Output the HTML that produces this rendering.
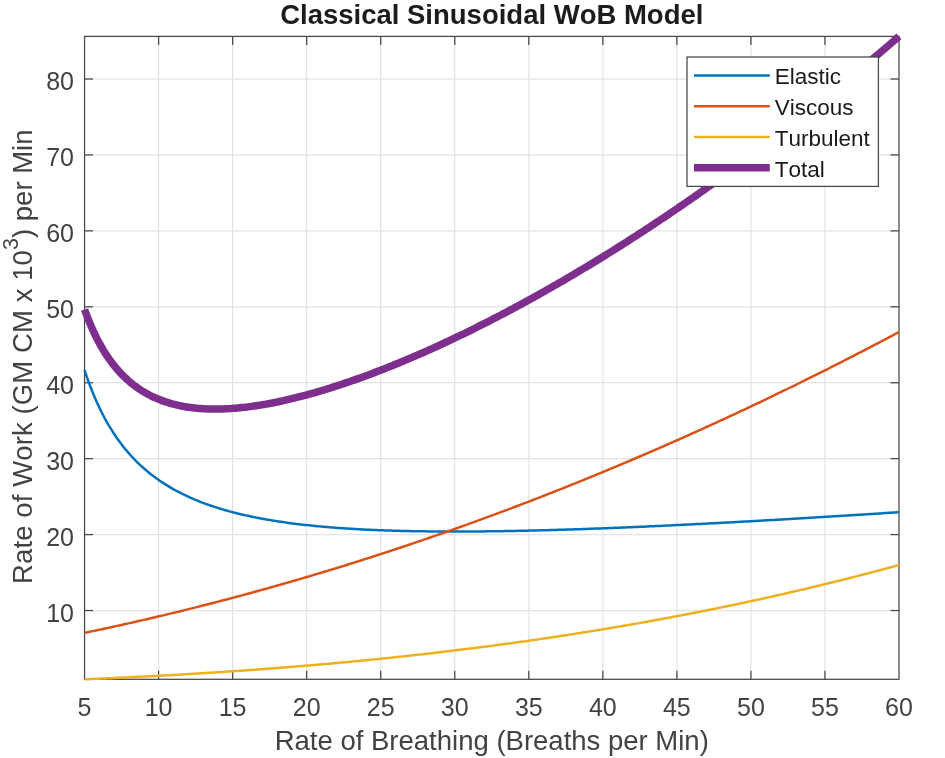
<!DOCTYPE html>
<html lang="en"><head><meta charset="utf-8"><title>Classical Sinusoidal WoB Model</title>
<style>html,body{margin:0;padding:0;background:#fff}body{width:945px;height:758px;overflow:hidden}text{font-kerning:none}</style></head>
<body>
<svg width="945" height="758" viewBox="0 0 945 758" style="display:block">
<rect width="945" height="758" fill="#fff"/>
<line x1="158.59" y1="36.4" x2="158.59" y2="679.3" stroke="#e2e3e5" stroke-width="1.25"/>
<line x1="232.63" y1="36.4" x2="232.63" y2="679.3" stroke="#e2e3e5" stroke-width="1.25"/>
<line x1="306.67" y1="36.4" x2="306.67" y2="679.3" stroke="#e2e3e5" stroke-width="1.25"/>
<line x1="380.71" y1="36.4" x2="380.71" y2="679.3" stroke="#e2e3e5" stroke-width="1.25"/>
<line x1="454.75" y1="36.4" x2="454.75" y2="679.3" stroke="#e2e3e5" stroke-width="1.25"/>
<line x1="528.80" y1="36.4" x2="528.80" y2="679.3" stroke="#e2e3e5" stroke-width="1.25"/>
<line x1="602.84" y1="36.4" x2="602.84" y2="679.3" stroke="#e2e3e5" stroke-width="1.25"/>
<line x1="676.88" y1="36.4" x2="676.88" y2="679.3" stroke="#e2e3e5" stroke-width="1.25"/>
<line x1="750.92" y1="36.4" x2="750.92" y2="679.3" stroke="#e2e3e5" stroke-width="1.25"/>
<line x1="824.96" y1="36.4" x2="824.96" y2="679.3" stroke="#e2e3e5" stroke-width="1.25"/>
<line x1="84.55" y1="610.51" x2="899.0" y2="610.51" stroke="#e2e3e5" stroke-width="1.25"/>
<line x1="84.55" y1="534.58" x2="899.0" y2="534.58" stroke="#e2e3e5" stroke-width="1.25"/>
<line x1="84.55" y1="458.66" x2="899.0" y2="458.66" stroke="#e2e3e5" stroke-width="1.25"/>
<line x1="84.55" y1="382.73" x2="899.0" y2="382.73" stroke="#e2e3e5" stroke-width="1.25"/>
<line x1="84.55" y1="306.80" x2="899.0" y2="306.80" stroke="#e2e3e5" stroke-width="1.25"/>
<line x1="84.55" y1="230.87" x2="899.0" y2="230.87" stroke="#e2e3e5" stroke-width="1.25"/>
<line x1="84.55" y1="154.94" x2="899.0" y2="154.94" stroke="#e2e3e5" stroke-width="1.25"/>
<line x1="84.55" y1="79.02" x2="899.0" y2="79.02" stroke="#e2e3e5" stroke-width="1.25"/>
<rect x="84.55" y="36.4" width="814.45" height="642.9" fill="none" stroke="#45474a" stroke-width="1.25"/>
<line x1="158.59" y1="679.3" x2="158.59" y2="670.8" stroke="#45474a" stroke-width="1.25"/>
<line x1="158.59" y1="36.4" x2="158.59" y2="44.9" stroke="#45474a" stroke-width="1.25"/>
<line x1="232.63" y1="679.3" x2="232.63" y2="670.8" stroke="#45474a" stroke-width="1.25"/>
<line x1="232.63" y1="36.4" x2="232.63" y2="44.9" stroke="#45474a" stroke-width="1.25"/>
<line x1="306.67" y1="679.3" x2="306.67" y2="670.8" stroke="#45474a" stroke-width="1.25"/>
<line x1="306.67" y1="36.4" x2="306.67" y2="44.9" stroke="#45474a" stroke-width="1.25"/>
<line x1="380.71" y1="679.3" x2="380.71" y2="670.8" stroke="#45474a" stroke-width="1.25"/>
<line x1="380.71" y1="36.4" x2="380.71" y2="44.9" stroke="#45474a" stroke-width="1.25"/>
<line x1="454.75" y1="679.3" x2="454.75" y2="670.8" stroke="#45474a" stroke-width="1.25"/>
<line x1="454.75" y1="36.4" x2="454.75" y2="44.9" stroke="#45474a" stroke-width="1.25"/>
<line x1="528.80" y1="679.3" x2="528.80" y2="670.8" stroke="#45474a" stroke-width="1.25"/>
<line x1="528.80" y1="36.4" x2="528.80" y2="44.9" stroke="#45474a" stroke-width="1.25"/>
<line x1="602.84" y1="679.3" x2="602.84" y2="670.8" stroke="#45474a" stroke-width="1.25"/>
<line x1="602.84" y1="36.4" x2="602.84" y2="44.9" stroke="#45474a" stroke-width="1.25"/>
<line x1="676.88" y1="679.3" x2="676.88" y2="670.8" stroke="#45474a" stroke-width="1.25"/>
<line x1="676.88" y1="36.4" x2="676.88" y2="44.9" stroke="#45474a" stroke-width="1.25"/>
<line x1="750.92" y1="679.3" x2="750.92" y2="670.8" stroke="#45474a" stroke-width="1.25"/>
<line x1="750.92" y1="36.4" x2="750.92" y2="44.9" stroke="#45474a" stroke-width="1.25"/>
<line x1="824.96" y1="679.3" x2="824.96" y2="670.8" stroke="#45474a" stroke-width="1.25"/>
<line x1="824.96" y1="36.4" x2="824.96" y2="44.9" stroke="#45474a" stroke-width="1.25"/>
<line x1="84.55" y1="610.51" x2="93.05" y2="610.51" stroke="#45474a" stroke-width="1.25"/>
<line x1="899.0" y1="610.51" x2="890.5" y2="610.51" stroke="#45474a" stroke-width="1.25"/>
<line x1="84.55" y1="534.58" x2="93.05" y2="534.58" stroke="#45474a" stroke-width="1.25"/>
<line x1="899.0" y1="534.58" x2="890.5" y2="534.58" stroke="#45474a" stroke-width="1.25"/>
<line x1="84.55" y1="458.66" x2="93.05" y2="458.66" stroke="#45474a" stroke-width="1.25"/>
<line x1="899.0" y1="458.66" x2="890.5" y2="458.66" stroke="#45474a" stroke-width="1.25"/>
<line x1="84.55" y1="382.73" x2="93.05" y2="382.73" stroke="#45474a" stroke-width="1.25"/>
<line x1="899.0" y1="382.73" x2="890.5" y2="382.73" stroke="#45474a" stroke-width="1.25"/>
<line x1="84.55" y1="306.80" x2="93.05" y2="306.80" stroke="#45474a" stroke-width="1.25"/>
<line x1="899.0" y1="306.80" x2="890.5" y2="306.80" stroke="#45474a" stroke-width="1.25"/>
<line x1="84.55" y1="230.87" x2="93.05" y2="230.87" stroke="#45474a" stroke-width="1.25"/>
<line x1="899.0" y1="230.87" x2="890.5" y2="230.87" stroke="#45474a" stroke-width="1.25"/>
<line x1="84.55" y1="154.94" x2="93.05" y2="154.94" stroke="#45474a" stroke-width="1.25"/>
<line x1="899.0" y1="154.94" x2="890.5" y2="154.94" stroke="#45474a" stroke-width="1.25"/>
<line x1="84.55" y1="79.02" x2="93.05" y2="79.02" stroke="#45474a" stroke-width="1.25"/>
<line x1="899.0" y1="79.02" x2="890.5" y2="79.02" stroke="#45474a" stroke-width="1.25"/>
<path d="M84.55,370.20 L86.59,376.26 L88.63,381.98 L90.67,387.41 L92.71,392.56 L94.76,397.46 L96.80,402.11 L98.84,406.54 L100.88,410.76 L102.92,414.79 L104.96,418.63 L107.00,422.31 L109.04,425.82 L111.09,429.19 L113.13,432.41 L115.17,435.50 L117.21,438.47 L119.25,441.32 L121.29,444.05 L123.33,446.69 L125.37,449.22 L127.42,451.65 L129.46,454.00 L131.50,456.26 L133.54,458.44 L135.58,460.55 L137.62,462.58 L139.66,464.54 L141.70,466.43 L143.75,468.27 L145.79,470.04 L147.83,471.75 L149.87,473.41 L151.91,475.01 L153.95,476.56 L155.99,478.07 L158.03,479.53 L160.08,480.94 L162.12,482.31 L164.16,483.64 L166.20,484.93 L168.24,486.18 L170.28,487.40 L172.32,488.58 L174.36,489.72 L176.41,490.84 L178.45,491.92 L180.49,492.97 L182.53,494.00 L184.57,494.99 L186.61,495.96 L188.65,496.90 L190.69,497.81 L192.74,498.71 L194.78,499.57 L196.82,500.42 L198.86,501.24 L200.90,502.04 L202.94,502.82 L204.98,503.58 L207.02,504.33 L209.06,505.05 L211.11,505.75 L213.15,506.44 L215.19,507.11 L217.23,507.76 L219.27,508.39 L221.31,509.01 L223.35,509.62 L225.39,510.21 L227.44,510.78 L229.48,511.34 L231.52,511.89 L233.56,512.43 L235.60,512.95 L237.64,513.46 L239.68,513.95 L241.72,514.44 L243.77,514.91 L245.81,515.37 L247.85,515.82 L249.89,516.26 L251.93,516.69 L253.97,517.11 L256.01,517.52 L258.05,517.92 L260.10,518.31 L262.14,518.69 L264.18,519.07 L266.22,519.43 L268.26,519.78 L270.30,520.13 L272.34,520.47 L274.38,520.80 L276.43,521.12 L278.47,521.44 L280.51,521.74 L282.55,522.04 L284.59,522.34 L286.63,522.62 L288.67,522.90 L290.71,523.18 L292.76,523.44 L294.80,523.70 L296.84,523.95 L298.88,524.20 L300.92,524.44 L302.96,524.68 L305.00,524.91 L307.04,525.13 L309.09,525.35 L311.13,525.57 L313.17,525.77 L315.21,525.98 L317.25,526.17 L319.29,526.37 L321.33,526.55 L323.37,526.74 L325.41,526.92 L327.46,527.09 L329.50,527.26 L331.54,527.42 L333.58,527.59 L335.62,527.74 L337.66,527.89 L339.70,528.04 L341.74,528.19 L343.79,528.33 L345.83,528.46 L347.87,528.59 L349.91,528.72 L351.95,528.85 L353.99,528.97 L356.03,529.09 L358.07,529.20 L360.12,529.31 L362.16,529.42 L364.20,529.53 L366.24,529.63 L368.28,529.72 L370.32,529.82 L372.36,529.91 L374.40,530.00 L376.45,530.09 L378.49,530.17 L380.53,530.25 L382.57,530.33 L384.61,530.40 L386.65,530.47 L388.69,530.54 L390.73,530.61 L392.78,530.67 L394.82,530.73 L396.86,530.79 L398.90,530.85 L400.94,530.90 L402.98,530.95 L405.02,531.00 L407.06,531.05 L409.11,531.09 L411.15,531.13 L413.19,531.17 L415.23,531.21 L417.27,531.25 L419.31,531.28 L421.35,531.31 L423.39,531.34 L425.44,531.37 L427.48,531.39 L429.52,531.41 L431.56,531.44 L433.60,531.45 L435.64,531.47 L437.68,531.49 L439.72,531.50 L441.76,531.51 L443.81,531.52 L445.85,531.53 L447.89,531.54 L449.93,531.54 L451.97,531.55 L454.01,531.55 L456.05,531.55 L458.09,531.54 L460.14,531.54 L462.18,531.54 L464.22,531.53 L466.26,531.52 L468.30,531.51 L470.34,531.50 L472.38,531.49 L474.42,531.47 L476.47,531.46 L478.51,531.44 L480.55,531.42 L482.59,531.40 L484.63,531.38 L486.67,531.36 L488.71,531.34 L490.75,531.31 L492.80,531.29 L494.84,531.26 L496.88,531.23 L498.92,531.20 L500.96,531.17 L503.00,531.13 L505.04,531.10 L507.08,531.07 L509.13,531.03 L511.17,530.99 L513.21,530.95 L515.25,530.91 L517.29,530.87 L519.33,530.83 L521.37,530.79 L523.41,530.75 L525.46,530.70 L527.50,530.65 L529.54,530.61 L531.58,530.56 L533.62,530.51 L535.66,530.46 L537.70,530.41 L539.74,530.36 L541.79,530.30 L543.83,530.25 L545.87,530.20 L547.91,530.14 L549.95,530.08 L551.99,530.02 L554.03,529.97 L556.07,529.91 L558.11,529.85 L560.16,529.78 L562.20,529.72 L564.24,529.66 L566.28,529.60 L568.32,529.53 L570.36,529.47 L572.40,529.40 L574.44,529.33 L576.49,529.26 L578.53,529.20 L580.57,529.13 L582.61,529.06 L584.65,528.99 L586.69,528.91 L588.73,528.84 L590.77,528.77 L592.82,528.69 L594.86,528.62 L596.90,528.54 L598.94,528.47 L600.98,528.39 L603.02,528.31 L605.06,528.23 L607.10,528.16 L609.15,528.08 L611.19,528.00 L613.23,527.91 L615.27,527.83 L617.31,527.75 L619.35,527.67 L621.39,527.58 L623.43,527.50 L625.48,527.42 L627.52,527.33 L629.56,527.24 L631.60,527.16 L633.64,527.07 L635.68,526.98 L637.72,526.89 L639.76,526.81 L641.81,526.72 L643.85,526.63 L645.89,526.53 L647.93,526.44 L649.97,526.35 L652.01,526.26 L654.05,526.17 L656.09,526.07 L658.14,525.98 L660.18,525.88 L662.22,525.79 L664.26,525.69 L666.30,525.60 L668.34,525.50 L670.38,525.40 L672.42,525.31 L674.46,525.21 L676.51,525.11 L678.55,525.01 L680.59,524.91 L682.63,524.81 L684.67,524.71 L686.71,524.61 L688.75,524.51 L690.79,524.41 L692.84,524.31 L694.88,524.20 L696.92,524.10 L698.96,524.00 L701.00,523.89 L703.04,523.79 L705.08,523.68 L707.12,523.58 L709.17,523.47 L711.21,523.37 L713.25,523.26 L715.29,523.15 L717.33,523.04 L719.37,522.94 L721.41,522.83 L723.45,522.72 L725.50,522.61 L727.54,522.50 L729.58,522.39 L731.62,522.28 L733.66,522.17 L735.70,522.06 L737.74,521.95 L739.78,521.84 L741.83,521.72 L743.87,521.61 L745.91,521.50 L747.95,521.39 L749.99,521.27 L752.03,521.16 L754.07,521.04 L756.11,520.93 L758.16,520.81 L760.20,520.70 L762.24,520.58 L764.28,520.47 L766.32,520.35 L768.36,520.23 L770.40,520.12 L772.44,520.00 L774.49,519.88 L776.53,519.77 L778.57,519.65 L780.61,519.53 L782.65,519.41 L784.69,519.29 L786.73,519.17 L788.77,519.05 L790.81,518.93 L792.86,518.81 L794.90,518.69 L796.94,518.57 L798.98,518.45 L801.02,518.33 L803.06,518.20 L805.10,518.08 L807.14,517.96 L809.19,517.84 L811.23,517.71 L813.27,517.59 L815.31,517.47 L817.35,517.34 L819.39,517.22 L821.43,517.09 L823.47,516.97 L825.52,516.84 L827.56,516.72 L829.60,516.59 L831.64,516.47 L833.68,516.34 L835.72,516.22 L837.76,516.09 L839.80,515.96 L841.85,515.84 L843.89,515.71 L845.93,515.58 L847.97,515.45 L850.01,515.33 L852.05,515.20 L854.09,515.07 L856.13,514.94 L858.18,514.81 L860.22,514.68 L862.26,514.55 L864.30,514.42 L866.34,514.29 L868.38,514.16 L870.42,514.03 L872.46,513.90 L874.51,513.77 L876.55,513.64 L878.59,513.51 L880.63,513.38 L882.67,513.25 L884.71,513.11 L886.75,512.98 L888.79,512.85 L890.84,512.72 L892.88,512.58 L894.92,512.45 L896.96,512.32 L899.00,512.19" fill="none" stroke="#0072BD" stroke-width="2.5" stroke-linejoin="round"/>
<path d="M84.55,632.84 L86.59,632.42 L88.63,632.00 L90.67,631.57 L92.71,631.14 L94.76,630.71 L96.80,630.28 L98.84,629.85 L100.88,629.41 L102.92,628.98 L104.96,628.54 L107.00,628.10 L109.04,627.66 L111.09,627.22 L113.13,626.77 L115.17,626.33 L117.21,625.88 L119.25,625.43 L121.29,624.98 L123.33,624.52 L125.37,624.07 L127.42,623.61 L129.46,623.15 L131.50,622.70 L133.54,622.23 L135.58,621.77 L137.62,621.31 L139.66,620.84 L141.70,620.37 L143.75,619.90 L145.79,619.43 L147.83,618.96 L149.87,618.48 L151.91,618.01 L153.95,617.53 L155.99,617.05 L158.03,616.57 L160.08,616.09 L162.12,615.60 L164.16,615.12 L166.20,614.63 L168.24,614.14 L170.28,613.65 L172.32,613.15 L174.36,612.66 L176.41,612.16 L178.45,611.67 L180.49,611.17 L182.53,610.67 L184.57,610.16 L186.61,609.66 L188.65,609.15 L190.69,608.64 L192.74,608.13 L194.78,607.62 L196.82,607.11 L198.86,606.60 L200.90,606.08 L202.94,605.56 L204.98,605.04 L207.02,604.52 L209.06,604.00 L211.11,603.47 L213.15,602.95 L215.19,602.42 L217.23,601.89 L219.27,601.36 L221.31,600.83 L223.35,600.29 L225.39,599.76 L227.44,599.22 L229.48,598.68 L231.52,598.14 L233.56,597.60 L235.60,597.05 L237.64,596.51 L239.68,595.96 L241.72,595.41 L243.77,594.86 L245.81,594.31 L247.85,593.75 L249.89,593.20 L251.93,592.64 L253.97,592.08 L256.01,591.52 L258.05,590.95 L260.10,590.39 L262.14,589.82 L264.18,589.26 L266.22,588.69 L268.26,588.12 L270.30,587.54 L272.34,586.97 L274.38,586.39 L276.43,585.82 L278.47,585.24 L280.51,584.66 L282.55,584.07 L284.59,583.49 L286.63,582.90 L288.67,582.32 L290.71,581.73 L292.76,581.14 L294.80,580.54 L296.84,579.95 L298.88,579.35 L300.92,578.75 L302.96,578.16 L305.00,577.55 L307.04,576.95 L309.09,576.35 L311.13,575.74 L313.17,575.13 L315.21,574.53 L317.25,573.91 L319.29,573.30 L321.33,572.69 L323.37,572.07 L325.41,571.45 L327.46,570.83 L329.50,570.21 L331.54,569.59 L333.58,568.97 L335.62,568.34 L337.66,567.71 L339.70,567.08 L341.74,566.45 L343.79,565.82 L345.83,565.19 L347.87,564.55 L349.91,563.91 L351.95,563.28 L353.99,562.63 L356.03,561.99 L358.07,561.35 L360.12,560.70 L362.16,560.05 L364.20,559.41 L366.24,558.75 L368.28,558.10 L370.32,557.45 L372.36,556.79 L374.40,556.13 L376.45,555.48 L378.49,554.81 L380.53,554.15 L382.57,553.49 L384.61,552.82 L386.65,552.16 L388.69,551.49 L390.73,550.82 L392.78,550.14 L394.82,549.47 L396.86,548.79 L398.90,548.12 L400.94,547.44 L402.98,546.76 L405.02,546.07 L407.06,545.39 L409.11,544.70 L411.15,544.02 L413.19,543.33 L415.23,542.64 L417.27,541.94 L419.31,541.25 L421.35,540.56 L423.39,539.86 L425.44,539.16 L427.48,538.46 L429.52,537.76 L431.56,537.05 L433.60,536.35 L435.64,535.64 L437.68,534.93 L439.72,534.22 L441.76,533.51 L443.81,532.79 L445.85,532.08 L447.89,531.36 L449.93,530.64 L451.97,529.92 L454.01,529.20 L456.05,528.47 L458.09,527.75 L460.14,527.02 L462.18,526.29 L464.22,525.56 L466.26,524.83 L468.30,524.10 L470.34,523.36 L472.38,522.62 L474.42,521.88 L476.47,521.14 L478.51,520.40 L480.55,519.66 L482.59,518.91 L484.63,518.16 L486.67,517.42 L488.71,516.67 L490.75,515.91 L492.80,515.16 L494.84,514.40 L496.88,513.65 L498.92,512.89 L500.96,512.13 L503.00,511.37 L505.04,510.60 L507.08,509.84 L509.13,509.07 L511.17,508.30 L513.21,507.53 L515.25,506.76 L517.29,505.98 L519.33,505.21 L521.37,504.43 L523.41,503.65 L525.46,502.87 L527.50,502.09 L529.54,501.31 L531.58,500.52 L533.62,499.73 L535.66,498.94 L537.70,498.15 L539.74,497.36 L541.79,496.57 L543.83,495.77 L545.87,494.98 L547.91,494.18 L549.95,493.38 L551.99,492.57 L554.03,491.77 L556.07,490.96 L558.11,490.16 L560.16,489.35 L562.20,488.54 L564.24,487.73 L566.28,486.91 L568.32,486.10 L570.36,485.28 L572.40,484.46 L574.44,483.64 L576.49,482.82 L578.53,482.00 L580.57,481.17 L582.61,480.34 L584.65,479.51 L586.69,478.68 L588.73,477.85 L590.77,477.02 L592.82,476.18 L594.86,475.35 L596.90,474.51 L598.94,473.67 L600.98,472.83 L603.02,471.98 L605.06,471.14 L607.10,470.29 L609.15,469.44 L611.19,468.59 L613.23,467.74 L615.27,466.89 L617.31,466.03 L619.35,465.17 L621.39,464.31 L623.43,463.45 L625.48,462.59 L627.52,461.73 L629.56,460.86 L631.60,460.00 L633.64,459.13 L635.68,458.26 L637.72,457.39 L639.76,456.51 L641.81,455.64 L643.85,454.76 L645.89,453.88 L647.93,453.00 L649.97,452.12 L652.01,451.24 L654.05,450.35 L656.09,449.46 L658.14,448.57 L660.18,447.68 L662.22,446.79 L664.26,445.90 L666.30,445.00 L668.34,444.11 L670.38,443.21 L672.42,442.31 L674.46,441.41 L676.51,440.50 L678.55,439.60 L680.59,438.69 L682.63,437.78 L684.67,436.87 L686.71,435.96 L688.75,435.05 L690.79,434.13 L692.84,433.22 L694.88,432.30 L696.92,431.38 L698.96,430.46 L701.00,429.53 L703.04,428.61 L705.08,427.68 L707.12,426.75 L709.17,425.82 L711.21,424.89 L713.25,423.96 L715.29,423.02 L717.33,422.08 L719.37,421.15 L721.41,420.21 L723.45,419.26 L725.50,418.32 L727.54,417.38 L729.58,416.43 L731.62,415.48 L733.66,414.53 L735.70,413.58 L737.74,412.63 L739.78,411.67 L741.83,410.71 L743.87,409.76 L745.91,408.80 L747.95,407.83 L749.99,406.87 L752.03,405.91 L754.07,404.94 L756.11,403.97 L758.16,403.00 L760.20,402.03 L762.24,401.06 L764.28,400.08 L766.32,399.10 L768.36,398.13 L770.40,397.15 L772.44,396.16 L774.49,395.18 L776.53,394.20 L778.57,393.21 L780.61,392.22 L782.65,391.23 L784.69,390.24 L786.73,389.25 L788.77,388.25 L790.81,387.25 L792.86,386.26 L794.90,385.26 L796.94,384.25 L798.98,383.25 L801.02,382.25 L803.06,381.24 L805.10,380.23 L807.14,379.22 L809.19,378.21 L811.23,377.20 L813.27,376.18 L815.31,375.16 L817.35,374.15 L819.39,373.13 L821.43,372.11 L823.47,371.08 L825.52,370.06 L827.56,369.03 L829.60,368.00 L831.64,366.97 L833.68,365.94 L835.72,364.91 L837.76,363.87 L839.80,362.84 L841.85,361.80 L843.89,360.76 L845.93,359.72 L847.97,358.67 L850.01,357.63 L852.05,356.58 L854.09,355.53 L856.13,354.48 L858.18,353.43 L860.22,352.38 L862.26,351.33 L864.30,350.27 L866.34,349.21 L868.38,348.15 L870.42,347.09 L872.46,346.03 L874.51,344.96 L876.55,343.89 L878.59,342.83 L880.63,341.76 L882.67,340.69 L884.71,339.61 L886.75,338.54 L888.79,337.46 L890.84,336.38 L892.88,335.30 L894.92,334.22 L896.96,333.14 L899.00,332.05" fill="none" stroke="#D95319" stroke-width="2.5" stroke-linejoin="round"/>
<path d="M84.55,679.30 L86.59,679.22 L88.63,679.13 L90.67,679.04 L92.71,678.96 L94.76,678.87 L96.80,678.78 L98.84,678.69 L100.88,678.60 L102.92,678.51 L104.96,678.42 L107.00,678.33 L109.04,678.24 L111.09,678.15 L113.13,678.05 L115.17,677.96 L117.21,677.86 L119.25,677.77 L121.29,677.67 L123.33,677.57 L125.37,677.48 L127.42,677.38 L129.46,677.28 L131.50,677.18 L133.54,677.08 L135.58,676.98 L137.62,676.87 L139.66,676.77 L141.70,676.67 L143.75,676.56 L145.79,676.46 L147.83,676.35 L149.87,676.25 L151.91,676.14 L153.95,676.03 L155.99,675.92 L158.03,675.81 L160.08,675.70 L162.12,675.59 L164.16,675.48 L166.20,675.37 L168.24,675.25 L170.28,675.14 L172.32,675.02 L174.36,674.91 L176.41,674.79 L178.45,674.67 L180.49,674.56 L182.53,674.44 L184.57,674.32 L186.61,674.20 L188.65,674.08 L190.69,673.95 L192.74,673.83 L194.78,673.71 L196.82,673.58 L198.86,673.46 L200.90,673.33 L202.94,673.20 L204.98,673.08 L207.02,672.95 L209.06,672.82 L211.11,672.69 L213.15,672.56 L215.19,672.43 L217.23,672.29 L219.27,672.16 L221.31,672.03 L223.35,671.89 L225.39,671.75 L227.44,671.62 L229.48,671.48 L231.52,671.34 L233.56,671.20 L235.60,671.06 L237.64,670.92 L239.68,670.78 L241.72,670.64 L243.77,670.49 L245.81,670.35 L247.85,670.20 L249.89,670.06 L251.93,669.91 L253.97,669.76 L256.01,669.61 L258.05,669.46 L260.10,669.31 L262.14,669.16 L264.18,669.01 L266.22,668.85 L268.26,668.70 L270.30,668.54 L272.34,668.39 L274.38,668.23 L276.43,668.07 L278.47,667.91 L280.51,667.75 L282.55,667.59 L284.59,667.43 L286.63,667.27 L288.67,667.11 L290.71,666.94 L292.76,666.78 L294.80,666.61 L296.84,666.44 L298.88,666.27 L300.92,666.11 L302.96,665.94 L305.00,665.76 L307.04,665.59 L309.09,665.42 L311.13,665.25 L313.17,665.07 L315.21,664.90 L317.25,664.72 L319.29,664.54 L321.33,664.36 L323.37,664.18 L325.41,664.00 L327.46,663.82 L329.50,663.64 L331.54,663.46 L333.58,663.27 L335.62,663.09 L337.66,662.90 L339.70,662.71 L341.74,662.52 L343.79,662.33 L345.83,662.14 L347.87,661.95 L349.91,661.76 L351.95,661.57 L353.99,661.37 L356.03,661.18 L358.07,660.98 L360.12,660.78 L362.16,660.58 L364.20,660.39 L366.24,660.18 L368.28,659.98 L370.32,659.78 L372.36,659.58 L374.40,659.37 L376.45,659.17 L378.49,658.96 L380.53,658.75 L382.57,658.54 L384.61,658.33 L386.65,658.12 L388.69,657.91 L390.73,657.70 L392.78,657.48 L394.82,657.27 L396.86,657.05 L398.90,656.84 L400.94,656.62 L402.98,656.40 L405.02,656.18 L407.06,655.96 L409.11,655.73 L411.15,655.51 L413.19,655.29 L415.23,655.06 L417.27,654.83 L419.31,654.60 L421.35,654.38 L423.39,654.15 L425.44,653.91 L427.48,653.68 L429.52,653.45 L431.56,653.21 L433.60,652.98 L435.64,652.74 L437.68,652.50 L439.72,652.26 L441.76,652.02 L443.81,651.78 L445.85,651.54 L447.89,651.30 L449.93,651.05 L451.97,650.81 L454.01,650.56 L456.05,650.31 L458.09,650.06 L460.14,649.81 L462.18,649.56 L464.22,649.31 L466.26,649.05 L468.30,648.80 L470.34,648.54 L472.38,648.29 L474.42,648.03 L476.47,647.77 L478.51,647.51 L480.55,647.25 L482.59,646.98 L484.63,646.72 L486.67,646.45 L488.71,646.19 L490.75,645.92 L492.80,645.65 L494.84,645.38 L496.88,645.11 L498.92,644.83 L500.96,644.56 L503.00,644.29 L505.04,644.01 L507.08,643.73 L509.13,643.45 L511.17,643.17 L513.21,642.89 L515.25,642.61 L517.29,642.33 L519.33,642.04 L521.37,641.76 L523.41,641.47 L525.46,641.18 L527.50,640.89 L529.54,640.60 L531.58,640.31 L533.62,640.02 L535.66,639.72 L537.70,639.43 L539.74,639.13 L541.79,638.83 L543.83,638.53 L545.87,638.23 L547.91,637.93 L549.95,637.62 L551.99,637.32 L554.03,637.01 L556.07,636.71 L558.11,636.40 L560.16,636.09 L562.20,635.78 L564.24,635.47 L566.28,635.15 L568.32,634.84 L570.36,634.52 L572.40,634.21 L574.44,633.89 L576.49,633.57 L578.53,633.25 L580.57,632.92 L582.61,632.60 L584.65,632.27 L586.69,631.95 L588.73,631.62 L590.77,631.29 L592.82,630.96 L594.86,630.63 L596.90,630.30 L598.94,629.96 L600.98,629.63 L603.02,629.29 L605.06,628.95 L607.10,628.61 L609.15,628.27 L611.19,627.93 L613.23,627.59 L615.27,627.24 L617.31,626.89 L619.35,626.55 L621.39,626.20 L623.43,625.85 L625.48,625.50 L627.52,625.14 L629.56,624.79 L631.60,624.43 L633.64,624.08 L635.68,623.72 L637.72,623.36 L639.76,623.00 L641.81,622.63 L643.85,622.27 L645.89,621.90 L647.93,621.54 L649.97,621.17 L652.01,620.80 L654.05,620.43 L656.09,620.06 L658.14,619.68 L660.18,619.31 L662.22,618.93 L664.26,618.55 L666.30,618.17 L668.34,617.79 L670.38,617.41 L672.42,617.03 L674.46,616.64 L676.51,616.26 L678.55,615.87 L680.59,615.48 L682.63,615.09 L684.67,614.70 L686.71,614.30 L688.75,613.91 L690.79,613.51 L692.84,613.11 L694.88,612.71 L696.92,612.31 L698.96,611.91 L701.00,611.51 L703.04,611.10 L705.08,610.70 L707.12,610.29 L709.17,609.88 L711.21,609.47 L713.25,609.05 L715.29,608.64 L717.33,608.23 L719.37,607.81 L721.41,607.39 L723.45,606.97 L725.50,606.55 L727.54,606.13 L729.58,605.70 L731.62,605.28 L733.66,604.85 L735.70,604.42 L737.74,603.99 L739.78,603.56 L741.83,603.13 L743.87,602.69 L745.91,602.25 L747.95,601.82 L749.99,601.38 L752.03,600.94 L754.07,600.49 L756.11,600.05 L758.16,599.60 L760.20,599.16 L762.24,598.71 L764.28,598.26 L766.32,597.81 L768.36,597.36 L770.40,596.90 L772.44,596.44 L774.49,595.99 L776.53,595.53 L778.57,595.07 L780.61,594.60 L782.65,594.14 L784.69,593.68 L786.73,593.21 L788.77,592.74 L790.81,592.27 L792.86,591.80 L794.90,591.32 L796.94,590.85 L798.98,590.37 L801.02,589.90 L803.06,589.42 L805.10,588.93 L807.14,588.45 L809.19,587.97 L811.23,587.48 L813.27,586.99 L815.31,586.50 L817.35,586.01 L819.39,585.52 L821.43,585.03 L823.47,584.53 L825.52,584.03 L827.56,583.54 L829.60,583.04 L831.64,582.53 L833.68,582.03 L835.72,581.52 L837.76,581.02 L839.80,580.51 L841.85,580.00 L843.89,579.49 L845.93,578.97 L847.97,578.46 L850.01,577.94 L852.05,577.42 L854.09,576.90 L856.13,576.38 L858.18,575.86 L860.22,575.33 L862.26,574.81 L864.30,574.28 L866.34,573.75 L868.38,573.22 L870.42,572.68 L872.46,572.15 L874.51,571.61 L876.55,571.07 L878.59,570.53 L880.63,569.99 L882.67,569.45 L884.71,568.90 L886.75,568.36 L888.79,567.81 L890.84,567.26 L892.88,566.71 L894.92,566.15 L896.96,565.60 L899.00,565.04" fill="none" stroke="#EDB120" stroke-width="2.5" stroke-linejoin="round"/>
<path d="M84.55,309.46 L86.59,315.01 L88.63,320.23 L90.67,325.15 L92.71,329.78 L94.76,334.16 L96.80,338.29 L98.84,342.20 L100.88,345.90 L102.92,349.40 L104.96,352.71 L107.00,355.86 L109.04,358.84 L111.09,361.67 L113.13,364.36 L115.17,366.91 L117.21,369.33 L119.25,371.63 L121.29,373.82 L123.33,375.90 L125.37,377.88 L127.42,379.76 L129.46,381.56 L131.50,383.26 L133.54,384.88 L135.58,386.42 L137.62,387.88 L139.66,389.27 L141.70,390.60 L143.75,391.85 L145.79,393.05 L147.83,394.18 L149.87,395.26 L151.91,396.28 L153.95,397.24 L155.99,398.16 L158.03,399.03 L160.08,399.85 L162.12,400.62 L164.16,401.35 L166.20,402.04 L168.24,402.69 L170.28,403.30 L172.32,403.88 L174.36,404.41 L176.41,404.91 L178.45,405.38 L180.49,405.81 L182.53,406.22 L184.57,406.59 L186.61,406.93 L188.65,407.25 L190.69,407.53 L192.74,407.79 L194.78,408.03 L196.82,408.23 L198.86,408.42 L200.90,408.58 L202.94,408.71 L204.98,408.82 L207.02,408.92 L209.06,408.99 L211.11,409.03 L213.15,409.06 L215.19,409.07 L217.23,409.06 L219.27,409.03 L221.31,408.99 L223.35,408.92 L225.39,408.84 L227.44,408.74 L229.48,408.62 L231.52,408.49 L233.56,408.34 L235.60,408.18 L237.64,408.00 L239.68,407.81 L241.72,407.60 L243.77,407.38 L245.81,407.15 L247.85,406.90 L249.89,406.63 L251.93,406.36 L253.97,406.07 L256.01,405.77 L258.05,405.46 L260.10,405.13 L262.14,404.80 L264.18,404.45 L266.22,404.09 L268.26,403.72 L270.30,403.34 L272.34,402.95 L274.38,402.54 L276.43,402.13 L278.47,401.71 L280.51,401.27 L282.55,400.83 L284.59,400.38 L286.63,399.92 L288.67,399.44 L290.71,398.96 L292.76,398.47 L294.80,397.97 L296.84,397.47 L298.88,396.95 L300.92,396.42 L302.96,395.89 L305.00,395.35 L307.04,394.80 L309.09,394.24 L311.13,393.67 L313.17,393.10 L315.21,392.52 L317.25,391.93 L319.29,391.33 L321.33,390.72 L323.37,390.11 L325.41,389.49 L327.46,388.87 L329.50,388.23 L331.54,387.59 L333.58,386.94 L335.62,386.29 L337.66,385.63 L339.70,384.96 L341.74,384.28 L343.79,383.60 L345.83,382.91 L347.87,382.22 L349.91,381.52 L351.95,380.81 L353.99,380.10 L356.03,379.38 L358.07,378.65 L360.12,377.92 L362.16,377.18 L364.20,376.44 L366.24,375.69 L368.28,374.93 L370.32,374.17 L372.36,373.40 L374.40,372.63 L376.45,371.85 L378.49,371.06 L380.53,370.27 L382.57,369.48 L384.61,368.68 L386.65,367.87 L388.69,367.06 L390.73,366.24 L392.78,365.42 L394.82,364.59 L396.86,363.76 L398.90,362.92 L400.94,362.08 L402.98,361.23 L405.02,360.37 L407.06,359.51 L409.11,358.65 L411.15,357.78 L413.19,356.91 L415.23,356.03 L417.27,355.14 L419.31,354.25 L421.35,353.36 L423.39,352.46 L425.44,351.56 L427.48,350.65 L429.52,349.74 L431.56,348.82 L433.60,347.90 L435.64,346.97 L437.68,346.04 L439.72,345.10 L441.76,344.16 L443.81,343.22 L445.85,342.27 L447.89,341.31 L449.93,340.36 L451.97,339.39 L454.01,338.42 L456.05,337.45 L458.09,336.48 L460.14,335.49 L462.18,334.51 L464.22,333.52 L466.26,332.53 L468.30,331.53 L470.34,330.52 L472.38,329.52 L474.42,328.51 L476.47,327.49 L478.51,326.47 L480.55,325.45 L482.59,324.42 L484.63,323.39 L486.67,322.35 L488.71,321.31 L490.75,320.26 L492.80,319.21 L494.84,318.16 L496.88,317.10 L498.92,316.04 L500.96,314.98 L503.00,313.91 L505.04,312.83 L507.08,311.75 L509.13,310.67 L511.17,309.59 L513.21,308.50 L515.25,307.40 L517.29,306.30 L519.33,305.20 L521.37,304.10 L523.41,302.99 L525.46,301.87 L527.50,300.76 L529.54,299.63 L531.58,298.51 L533.62,297.38 L535.66,296.25 L537.70,295.11 L539.74,293.97 L541.79,292.82 L543.83,291.67 L545.87,290.52 L547.91,289.36 L549.95,288.20 L551.99,287.04 L554.03,285.87 L556.07,284.70 L558.11,283.52 L560.16,282.34 L562.20,281.16 L564.24,279.97 L566.28,278.78 L568.32,277.59 L570.36,276.39 L572.40,275.19 L574.44,273.98 L576.49,272.77 L578.53,271.56 L580.57,270.34 L582.61,269.12 L584.65,267.89 L586.69,266.67 L588.73,265.43 L590.77,264.20 L592.82,262.96 L594.86,261.71 L596.90,260.47 L598.94,259.22 L600.98,257.96 L603.02,256.70 L605.06,255.44 L607.10,254.18 L609.15,252.91 L611.19,251.64 L613.23,250.36 L615.27,249.08 L617.31,247.79 L619.35,246.51 L621.39,245.22 L623.43,243.92 L625.48,242.62 L627.52,241.32 L629.56,240.02 L631.60,238.71 L633.64,237.39 L635.68,236.08 L637.72,234.76 L639.76,233.43 L641.81,232.11 L643.85,230.77 L645.89,229.44 L647.93,228.10 L649.97,226.76 L652.01,225.41 L654.05,224.07 L656.09,222.71 L658.14,221.36 L660.18,220.00 L662.22,218.63 L664.26,217.27 L666.30,215.90 L668.34,214.52 L670.38,213.14 L672.42,211.76 L674.46,210.38 L676.51,208.99 L678.55,207.60 L680.59,206.20 L682.63,204.80 L684.67,203.40 L686.71,201.99 L688.75,200.58 L690.79,199.17 L692.84,197.75 L694.88,196.33 L696.92,194.91 L698.96,193.48 L701.00,192.05 L703.04,190.62 L705.08,189.18 L707.12,187.74 L709.17,186.29 L711.21,184.84 L713.25,183.39 L715.29,181.93 L717.33,180.47 L719.37,179.01 L721.41,177.54 L723.45,176.07 L725.50,174.60 L727.54,173.12 L729.58,171.64 L731.62,170.16 L733.66,168.67 L735.70,167.18 L737.74,165.68 L739.78,164.19 L741.83,162.68 L743.87,161.18 L745.91,159.67 L747.95,158.16 L749.99,156.64 L752.03,155.12 L754.07,153.60 L756.11,152.07 L758.16,150.54 L760.20,149.01 L762.24,147.47 L764.28,145.93 L766.32,144.38 L768.36,142.84 L770.40,141.28 L772.44,139.73 L774.49,138.17 L776.53,136.61 L778.57,135.04 L780.61,133.47 L782.65,131.90 L784.69,130.32 L786.73,128.74 L788.77,127.16 L790.81,125.57 L792.86,123.98 L794.90,122.39 L796.94,120.79 L798.98,119.19 L801.02,117.59 L803.06,115.98 L805.10,114.37 L807.14,112.75 L809.19,111.13 L811.23,109.51 L813.27,107.89 L815.31,106.26 L817.35,104.62 L819.39,102.99 L821.43,101.35 L823.47,99.70 L825.52,98.06 L827.56,96.41 L829.60,94.75 L831.64,93.09 L833.68,91.43 L835.72,89.77 L837.76,88.10 L839.80,86.43 L841.85,84.75 L843.89,83.07 L845.93,81.39 L847.97,79.71 L850.01,78.02 L852.05,76.32 L854.09,74.63 L856.13,72.93 L858.18,71.22 L860.22,69.52 L862.26,67.80 L864.30,66.09 L866.34,64.37 L868.38,62.65 L870.42,60.93 L872.46,59.20 L874.51,57.46 L876.55,55.73 L878.59,53.99 L880.63,52.25 L882.67,50.50 L884.71,48.75 L886.75,47.00 L888.79,45.24 L890.84,43.48 L892.88,41.71 L894.92,39.95 L896.96,38.18 L899.00,36.40" fill="none" stroke="#7E2F8E" stroke-width="7.5" stroke-linejoin="round"/>
<text x="84.55" y="716" font-family="Liberation Sans, Arial, Helvetica, sans-serif" font-size="25" fill="#424242" text-anchor="middle">5</text>
<text x="158.59" y="716" font-family="Liberation Sans, Arial, Helvetica, sans-serif" font-size="25" fill="#424242" text-anchor="middle">10</text>
<text x="232.63" y="716" font-family="Liberation Sans, Arial, Helvetica, sans-serif" font-size="25" fill="#424242" text-anchor="middle">15</text>
<text x="306.67" y="716" font-family="Liberation Sans, Arial, Helvetica, sans-serif" font-size="25" fill="#424242" text-anchor="middle">20</text>
<text x="380.71" y="716" font-family="Liberation Sans, Arial, Helvetica, sans-serif" font-size="25" fill="#424242" text-anchor="middle">25</text>
<text x="454.75" y="716" font-family="Liberation Sans, Arial, Helvetica, sans-serif" font-size="25" fill="#424242" text-anchor="middle">30</text>
<text x="528.80" y="716" font-family="Liberation Sans, Arial, Helvetica, sans-serif" font-size="25" fill="#424242" text-anchor="middle">35</text>
<text x="602.84" y="716" font-family="Liberation Sans, Arial, Helvetica, sans-serif" font-size="25" fill="#424242" text-anchor="middle">40</text>
<text x="676.88" y="716" font-family="Liberation Sans, Arial, Helvetica, sans-serif" font-size="25" fill="#424242" text-anchor="middle">45</text>
<text x="750.92" y="716" font-family="Liberation Sans, Arial, Helvetica, sans-serif" font-size="25" fill="#424242" text-anchor="middle">50</text>
<text x="824.96" y="716" font-family="Liberation Sans, Arial, Helvetica, sans-serif" font-size="25" fill="#424242" text-anchor="middle">55</text>
<text x="899.00" y="716" font-family="Liberation Sans, Arial, Helvetica, sans-serif" font-size="25" fill="#424242" text-anchor="middle">60</text>
<text x="74" y="621.71" font-family="Liberation Sans, Arial, Helvetica, sans-serif" font-size="25" fill="#424242" text-anchor="end">10</text>
<text x="74" y="545.78" font-family="Liberation Sans, Arial, Helvetica, sans-serif" font-size="25" fill="#424242" text-anchor="end">20</text>
<text x="74" y="469.86" font-family="Liberation Sans, Arial, Helvetica, sans-serif" font-size="25" fill="#424242" text-anchor="end">30</text>
<text x="74" y="393.93" font-family="Liberation Sans, Arial, Helvetica, sans-serif" font-size="25" fill="#424242" text-anchor="end">40</text>
<text x="74" y="318.00" font-family="Liberation Sans, Arial, Helvetica, sans-serif" font-size="25" fill="#424242" text-anchor="end">50</text>
<text x="74" y="242.07" font-family="Liberation Sans, Arial, Helvetica, sans-serif" font-size="25" fill="#424242" text-anchor="end">60</text>
<text x="74" y="166.14" font-family="Liberation Sans, Arial, Helvetica, sans-serif" font-size="25" fill="#424242" text-anchor="end">70</text>
<text x="74" y="90.22" font-family="Liberation Sans, Arial, Helvetica, sans-serif" font-size="25" fill="#424242" text-anchor="end">80</text>
<text x="491.77" y="750.4" font-family="Liberation Sans, Arial, Helvetica, sans-serif" font-size="27.5" fill="#424242" text-anchor="middle">Rate of Breathing (Breaths per Min)</text>
<text x="491.77" y="23.7" font-family="Liberation Sans, Arial, Helvetica, sans-serif" font-size="27.5" font-weight="bold" fill="#1c1c1c" text-anchor="middle">Classical Sinusoidal WoB Model</text>
<g transform="translate(31.7,0) rotate(-90)" font-family="Liberation Sans, Arial, Helvetica, sans-serif" font-size="27.5" fill="#424242"><text x="-250" y="0" text-anchor="end" letter-spacing="0.095">Rate of Work (GM CM x 10</text><text x="-250" y="-14" font-size="21.5">3</text><text x="-238" y="0">) per Min</text></g>
<rect x="687.0" y="57.0" width="191.39999999999998" height="129.4" fill="#fff" stroke="#45474a" stroke-width="1.25"/>
<line x1="694" y1="75.5" x2="769.8" y2="75.5" stroke="#0072BD" stroke-width="2.5"/>
<text x="774.7" y="84.40" font-family="Liberation Sans, Arial, Helvetica, sans-serif" font-size="22.5" fill="#1a1a1a">Elastic</text>
<line x1="694" y1="106.2" x2="769.8" y2="106.2" stroke="#D95319" stroke-width="2.5"/>
<text x="774.7" y="115.10" font-family="Liberation Sans, Arial, Helvetica, sans-serif" font-size="22.5" fill="#1a1a1a">Viscous</text>
<line x1="694" y1="136.9" x2="769.8" y2="136.9" stroke="#EDB120" stroke-width="2.5"/>
<text x="774.7" y="145.80" font-family="Liberation Sans, Arial, Helvetica, sans-serif" font-size="22.5" fill="#1a1a1a">Turbulent</text>
<line x1="694" y1="167.7" x2="769.8" y2="167.7" stroke="#7E2F8E" stroke-width="7.5"/>
<text x="774.7" y="176.60" font-family="Liberation Sans, Arial, Helvetica, sans-serif" font-size="22.5" fill="#1a1a1a">Total</text>
</svg>
</body></html>
